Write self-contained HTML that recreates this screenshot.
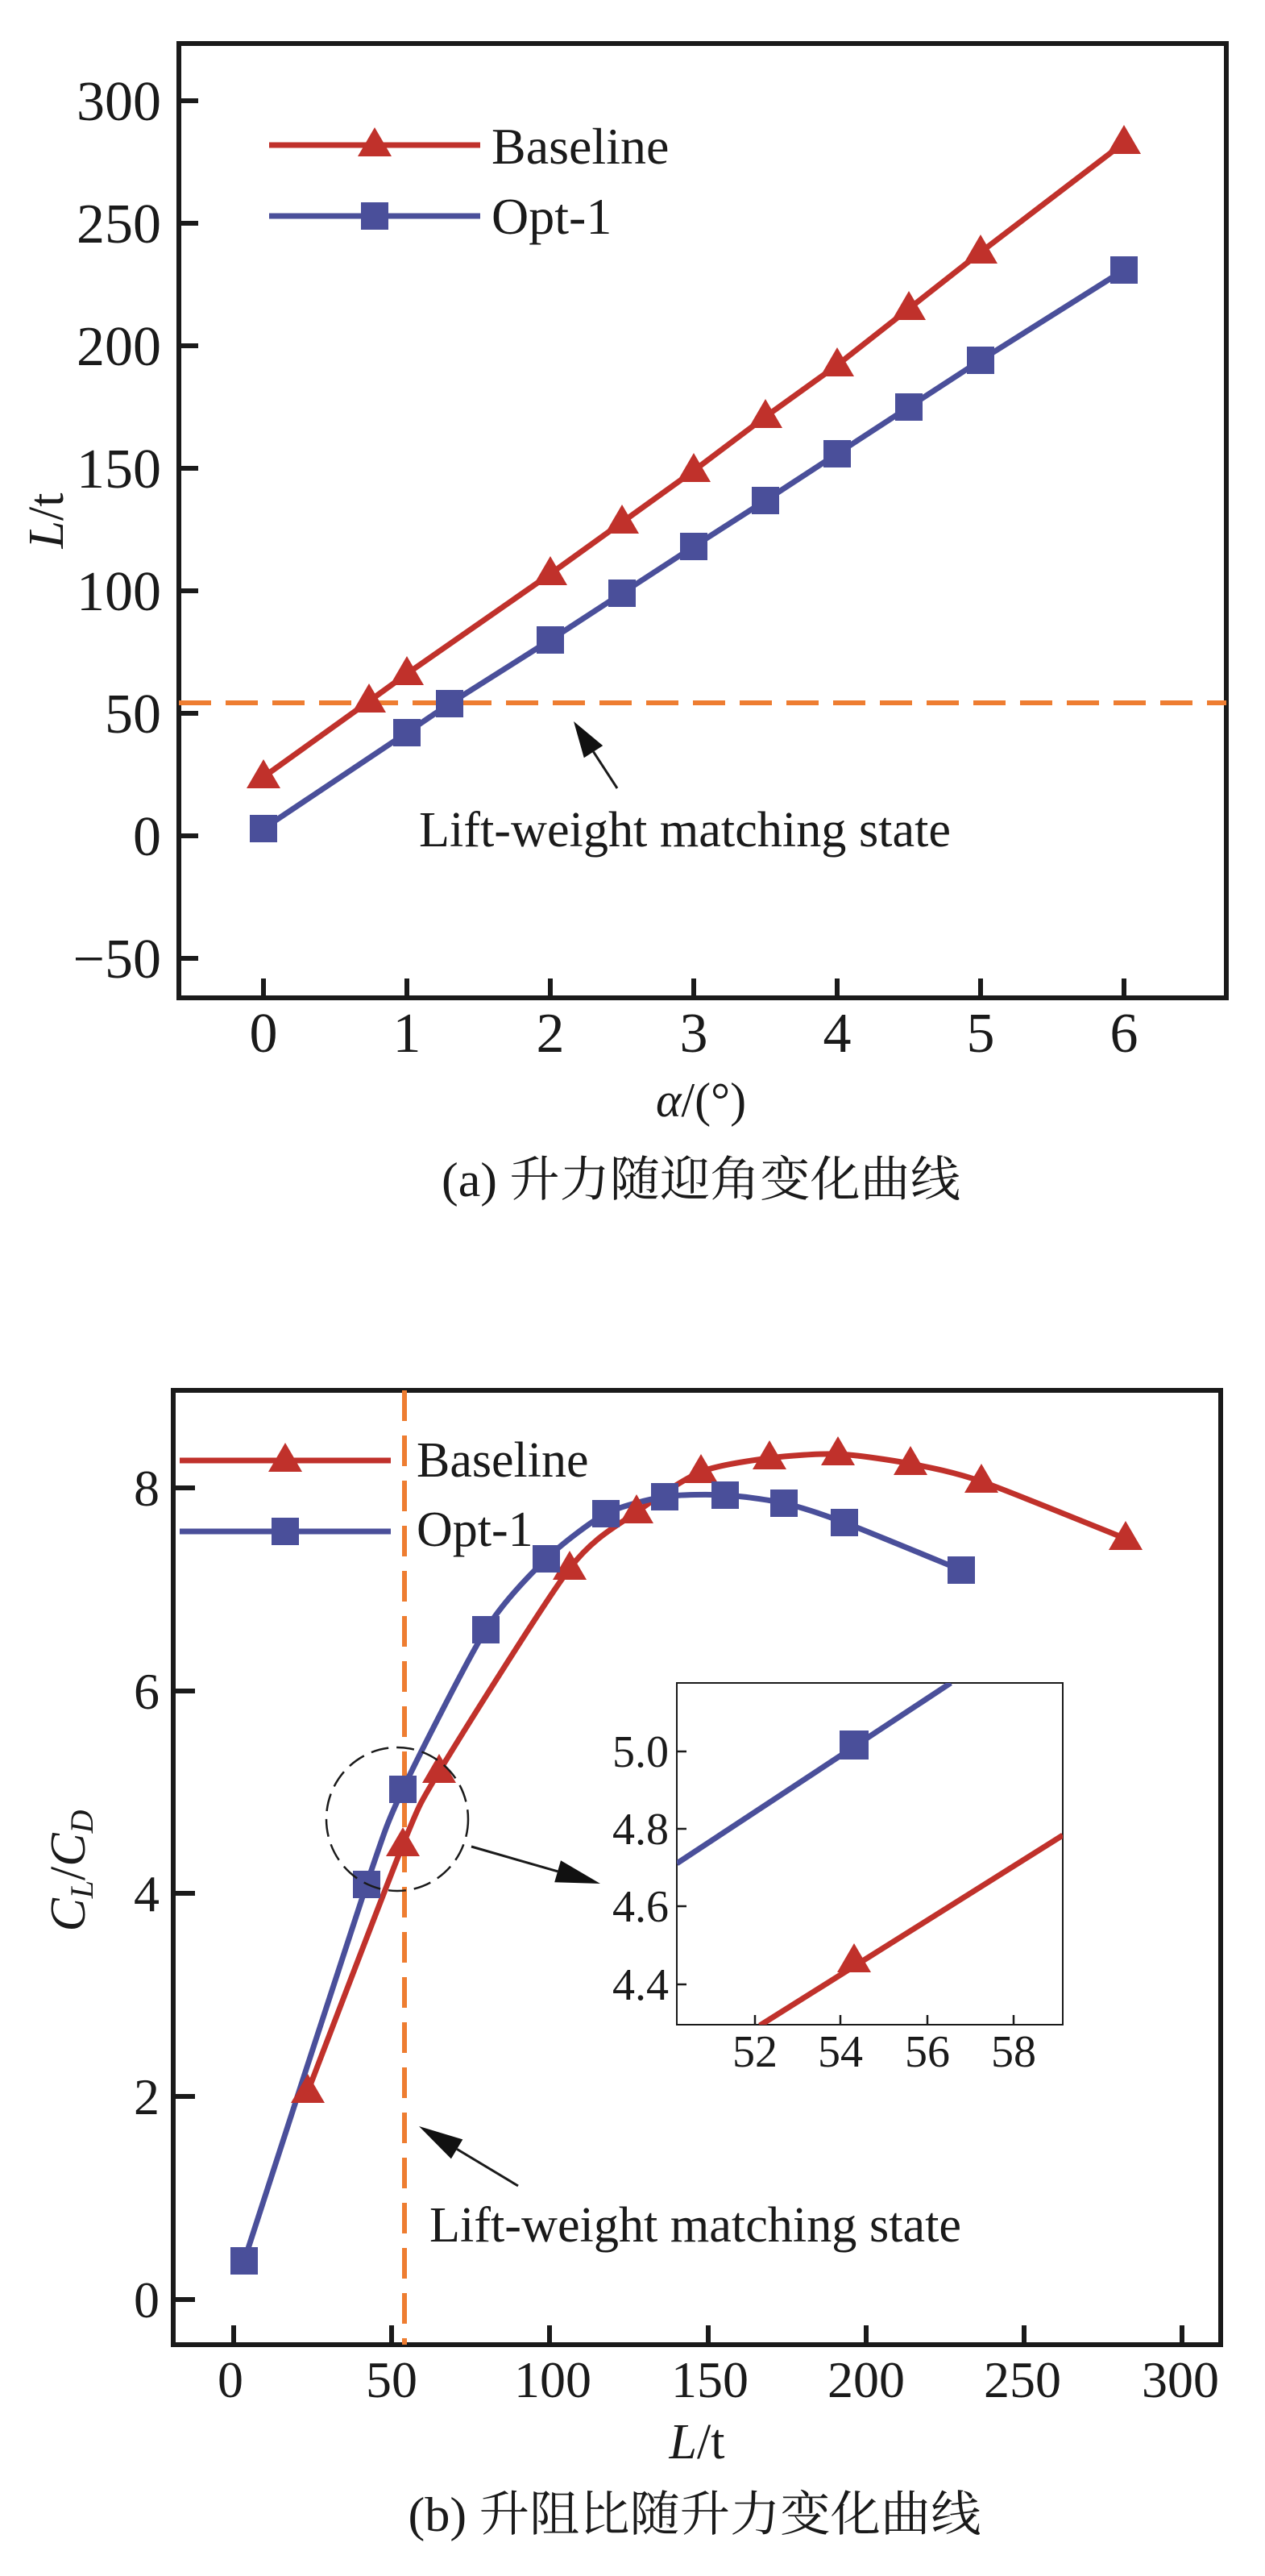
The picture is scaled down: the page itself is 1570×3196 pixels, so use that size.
<!DOCTYPE html>
<html><head><meta charset="utf-8">
<style>
html,body{margin:0;padding:0;background:#fff;}
svg{display:block;}
text{font-family:"Liberation Serif","Noto Serif CJK SC",serif;fill:#1a1a1a;}
</style></head>
<body>
<svg width="1570" height="3196" viewBox="0 0 1570 3196" xmlns="http://www.w3.org/2000/svg">
<defs>
<clipPath id="ca"><rect x="222" y="54" width="1300" height="1184"/></clipPath>
<clipPath id="cb"><rect x="215" y="1725" width="1300" height="1184"/></clipPath>
<clipPath id="ci"><rect x="840" y="2088" width="479" height="424"/></clipPath>
</defs>

<!-- ================= Chart (a) ================= -->
<rect x="222" y="54" width="1300" height="1184" stroke="#1a1a1a" stroke-width="6" fill="none"/>
<g stroke="#1a1a1a" stroke-width="6">
<line x1="222" y1="125" x2="246" y2="125"/>
<line x1="222" y1="277" x2="246" y2="277"/>
<line x1="222" y1="429" x2="246" y2="429"/>
<line x1="222" y1="581" x2="246" y2="581"/>
<line x1="222" y1="733" x2="246" y2="733"/>
<line x1="222" y1="885" x2="246" y2="885"/>
<line x1="222" y1="1037" x2="246" y2="1037"/>
<line x1="222" y1="1189" x2="246" y2="1189"/>
<line x1="327" y1="1238" x2="327" y2="1214"/>
<line x1="505" y1="1238" x2="505" y2="1214"/>
<line x1="683" y1="1238" x2="683" y2="1214"/>
<line x1="861" y1="1238" x2="861" y2="1214"/>
<line x1="1039" y1="1238" x2="1039" y2="1214"/>
<line x1="1217" y1="1238" x2="1217" y2="1214"/>
<line x1="1395" y1="1238" x2="1395" y2="1214"/>
</g>
<g font-size="70" text-anchor="end">
<text x="200" y="149">300</text>
<text x="200" y="301">250</text>
<text x="200" y="453">200</text>
<text x="200" y="605">150</text>
<text x="200" y="757">100</text>
<text x="200" y="909">50</text>
<text x="200" y="1061">0</text>
<text x="200" y="1213">−50</text>
</g>
<g font-size="70" text-anchor="middle">
<text x="327" y="1305">0</text>
<text x="505" y="1305">1</text>
<text x="683" y="1305">2</text>
<text x="861" y="1305">3</text>
<text x="1039" y="1305">4</text>
<text x="1217" y="1305">5</text>
<text x="1395" y="1305">6</text>
</g>
<text x="78" y="646" font-size="62" text-anchor="middle" transform="rotate(-90 78 646)"><tspan font-style="italic">L</tspan>/t</text>
<text x="870" y="1385" font-size="60" text-anchor="middle"><tspan font-style="italic">α</tspan>/(°)</text>
<text x="870" y="1484" font-size="60" text-anchor="middle" textLength="644" lengthAdjust="spacingAndGlyphs">(a) 升力随迎角变化曲线</text>

<g clip-path="url(#ca)">
<line x1="222" y1="872" x2="1522" y2="872" stroke="#EE7D31" stroke-width="6" stroke-dasharray="40 18"/>
<polyline fill="none" stroke="#C0312B" stroke-width="7" points="327,964 458,870 505,836 683,712 772,648 861,584 950,517 1039,453 1128,383 1217,313 1395,177"/>
<polyline fill="none" stroke="#4A4F9A" stroke-width="7" points="327,1028 505,909 558,873 683,794 772,736 861,678 950,621 1039,563 1128,505 1217,447 1395,335"/>
</g>
<g fill="#C0312B">
<path d="M0,-22 L21,14 L-21,14 Z" transform="translate(327,964)"/>
<path d="M0,-22 L21,14 L-21,14 Z" transform="translate(458,870)"/>
<path d="M0,-22 L21,14 L-21,14 Z" transform="translate(505,836)"/>
<path d="M0,-22 L21,14 L-21,14 Z" transform="translate(683,712)"/>
<path d="M0,-22 L21,14 L-21,14 Z" transform="translate(772,648)"/>
<path d="M0,-22 L21,14 L-21,14 Z" transform="translate(861,584)"/>
<path d="M0,-22 L21,14 L-21,14 Z" transform="translate(950,517)"/>
<path d="M0,-22 L21,14 L-21,14 Z" transform="translate(1039,453)"/>
<path d="M0,-22 L21,14 L-21,14 Z" transform="translate(1128,383)"/>
<path d="M0,-22 L21,14 L-21,14 Z" transform="translate(1217,313)"/>
<path d="M0,-22 L21,14 L-21,14 Z" transform="translate(1395,177)"/>
</g>
<g fill="#4A4F9A">
<rect x="310" y="1011" width="34" height="34"/>
<rect x="488" y="892" width="34" height="34"/>
<rect x="541" y="856" width="34" height="34"/>
<rect x="666" y="777" width="34" height="34"/>
<rect x="755" y="719" width="34" height="34"/>
<rect x="844" y="661" width="34" height="34"/>
<rect x="933" y="604" width="34" height="34"/>
<rect x="1022" y="546" width="34" height="34"/>
<rect x="1111" y="488" width="34" height="34"/>
<rect x="1200" y="430" width="34" height="34"/>
<rect x="1378" y="318" width="34" height="34"/>
</g>
<line x1="334" y1="180" x2="596" y2="180" stroke="#C0312B" stroke-width="7"/>
<line x1="334" y1="268" x2="596" y2="268" stroke="#4A4F9A" stroke-width="7"/>
<rect x="448" y="251" width="34" height="34" fill="#4A4F9A"/>
<path d="M0,-22 L21,14 L-21,14 Z" transform="translate(465,180)" fill="#C0312B"/>
<text x="610" y="203" font-size="64">Baseline</text>
<text x="610" y="290" font-size="64">Opt-1</text>

<line x1="766" y1="978" x2="736.5" y2="932.7" stroke="#1a1a1a" stroke-width="3"/>
<polygon points="712,895 748.2,925.1 724.8,940.3" fill="#111"/>
<text x="520" y="1050" font-size="62" textLength="660" lengthAdjust="spacingAndGlyphs">Lift-weight matching state</text>

<!-- ================= Chart (b) ================= -->
<rect x="215" y="1725" width="1300" height="1184" stroke="#1a1a1a" stroke-width="6" fill="none"/>
<g stroke="#1a1a1a" stroke-width="6">
<line x1="215" y1="1846" x2="242" y2="1846"/>
<line x1="215" y1="2098" x2="242" y2="2098"/>
<line x1="215" y1="2349" x2="242" y2="2349"/>
<line x1="215" y1="2601" x2="242" y2="2601"/>
<line x1="215" y1="2853" x2="242" y2="2853"/>
<line x1="290" y1="2909" x2="290" y2="2885"/>
<line x1="486" y1="2909" x2="486" y2="2885"/>
<line x1="682" y1="2909" x2="682" y2="2885"/>
<line x1="879" y1="2909" x2="879" y2="2885"/>
<line x1="1075" y1="2909" x2="1075" y2="2885"/>
<line x1="1271" y1="2909" x2="1271" y2="2885"/>
<line x1="1467" y1="2909" x2="1467" y2="2885"/>
</g>
<g font-size="64" text-anchor="end">
<text x="198" y="1868">8</text>
<text x="198" y="2120">6</text>
<text x="198" y="2371">4</text>
<text x="198" y="2623">2</text>
<text x="198" y="2875">0</text>
</g>
<g font-size="64" text-anchor="middle">
<text x="286" y="2974">0</text>
<text x="486" y="2974">50</text>
<text x="686" y="2974">100</text>
<text x="881" y="2974">150</text>
<text x="1075" y="2974">200</text>
<text x="1269" y="2974">250</text>
<text x="1465" y="2974">300</text>
</g>
<text x="105" y="2321" font-size="62" text-anchor="middle" transform="rotate(-90 105 2321)" font-style="italic">C<tspan font-size="40" dy="10">L</tspan><tspan font-style="normal" dy="-10">/</tspan>C<tspan font-size="40" dy="10">D</tspan></text>
<text x="865" y="3050" font-size="62" text-anchor="middle"><tspan font-style="italic">L</tspan>/t</text>
<text x="862" y="3140" font-size="60" text-anchor="middle" textLength="711" lengthAdjust="spacingAndGlyphs">(b) 升阻比随升力变化曲线</text>

<g clip-path="url(#cb)">
<line x1="502" y1="1725" x2="502" y2="2909" stroke="#EE7D31" stroke-width="6" stroke-dasharray="38 18"/>
<path id="pb" fill="none" stroke="#C0312B" stroke-width="7" d=""/>
<path id="po" fill="none" stroke="#4A4F9A" stroke-width="7" d=""/>
<polyline id="fb" fill="none" stroke="#C0312B" stroke-width="7" points="382,2595 500,2289 545,2198 707,1946 790,1876 870,1826 955,1809 1040,1804 1130,1816 1218,1838 1397,1909"/>
<polyline id="fo" fill="none" stroke="#4A4F9A" stroke-width="7" points="303,2805 455,2338 500,2220 603,2022 678,1934 752,1878 825,1857 900,1855 973,1865 1048,1889 1193,1948"/>
</g>
<g fill="#C0312B">
<path d="M0,-22 L21,14 L-21,14 Z" transform="translate(382,2595)"/>
<path d="M0,-22 L21,14 L-21,14 Z" transform="translate(500,2289)"/>
<path d="M0,-22 L21,14 L-21,14 Z" transform="translate(545,2198)"/>
<path d="M0,-22 L21,14 L-21,14 Z" transform="translate(707,1946)"/>
<path d="M0,-22 L21,14 L-21,14 Z" transform="translate(790,1876)"/>
<path d="M0,-22 L21,14 L-21,14 Z" transform="translate(870,1826)"/>
<path d="M0,-22 L21,14 L-21,14 Z" transform="translate(955,1809)"/>
<path d="M0,-22 L21,14 L-21,14 Z" transform="translate(1040,1804)"/>
<path d="M0,-22 L21,14 L-21,14 Z" transform="translate(1130,1816)"/>
<path d="M0,-22 L21,14 L-21,14 Z" transform="translate(1218,1838)"/>
<path d="M0,-22 L21,14 L-21,14 Z" transform="translate(1397,1909)"/>
</g>
<g fill="#4A4F9A">
<rect x="286" y="2788" width="34" height="34"/>
<rect x="438" y="2321" width="34" height="34"/>
<rect x="483" y="2203" width="34" height="34"/>
<rect x="586" y="2005" width="34" height="34"/>
<rect x="661" y="1917" width="34" height="34"/>
<rect x="735" y="1861" width="34" height="34"/>
<rect x="808" y="1840" width="34" height="34"/>
<rect x="883" y="1838" width="34" height="34"/>
<rect x="956" y="1848" width="34" height="34"/>
<rect x="1031" y="1872" width="34" height="34"/>
<rect x="1176" y="1931" width="34" height="34"/>
</g>
<line x1="223" y1="1812" x2="485" y2="1812" stroke="#C0312B" stroke-width="7"/>
<line x1="223" y1="1900" x2="485" y2="1900" stroke="#4A4F9A" stroke-width="7"/>
<path d="M0,-22 L21,14 L-21,14 Z" transform="translate(354,1812)" fill="#C0312B"/>
<rect x="337" y="1883" width="34" height="34" fill="#4A4F9A"/>
<text x="517" y="1832" font-size="62">Baseline</text>
<text x="517" y="1918" font-size="62">Opt-1</text>

<ellipse cx="493" cy="2257" rx="88" ry="89" fill="none" stroke="#1a1a1a" stroke-width="2.5" stroke-dasharray="22 10"/>
<line x1="585" y1="2291" x2="692.1" y2="2321.8" stroke="#1a1a1a" stroke-width="3"/>
<polygon points="745,2337 688.2,2335.3 696,2308.3" fill="#111"/>
<line x1="643" y1="2712" x2="567.1" y2="2666.4" stroke="#1a1a1a" stroke-width="3"/>
<polygon points="520,2638 574.3,2654.4 559.9,2678.4" fill="#111"/>
<text x="533" y="2781" font-size="62" textLength="660" lengthAdjust="spacingAndGlyphs">Lift-weight matching state</text>

<!-- inset -->
<rect x="840" y="2088" width="479" height="424" fill="#fff" stroke="#1a1a1a" stroke-width="2"/>
<g stroke="#1a1a1a" stroke-width="2.5">
<line x1="840" y1="2173" x2="852" y2="2173"/>
<line x1="840" y1="2269" x2="852" y2="2269"/>
<line x1="840" y1="2365" x2="852" y2="2365"/>
<line x1="840" y1="2462" x2="852" y2="2462"/>
<line x1="937" y1="2512" x2="937" y2="2500"/>
<line x1="1043" y1="2512" x2="1043" y2="2500"/>
<line x1="1151" y1="2512" x2="1151" y2="2500"/>
<line x1="1258" y1="2512" x2="1258" y2="2500"/>
</g>
<g font-size="56" text-anchor="end">
<text x="830" y="2192">5.0</text>
<text x="830" y="2288">4.8</text>
<text x="830" y="2384">4.6</text>
<text x="830" y="2481">4.4</text>
</g>
<g font-size="56" text-anchor="middle">
<text x="937" y="2564">52</text>
<text x="1043" y="2564">54</text>
<text x="1151" y="2564">56</text>
<text x="1258" y="2564">58</text>
</g>
<g clip-path="url(#ci)">
<line x1="840" y1="2312" x2="1180" y2="2088" stroke="#4A4F9A" stroke-width="7"/>
<line x1="943" y1="2513" x2="1319" y2="2277" stroke="#C0312B" stroke-width="7"/>
</g>
<rect x="1042" y="2147" width="36" height="36" fill="#4A4F9A"/>
<path d="M0,-22 L21,14 L-21,14 Z" transform="translate(1060,2433)" fill="#C0312B"/>
</svg>
<script>
(function(){
function smooth(pts){
 var d="M"+pts[0][0]+","+pts[0][1];
 for(var i=0;i<pts.length-1;i++){
  var p0=pts[Math.max(i-1,0)],p1=pts[i],p2=pts[i+1],p3=pts[Math.min(i+2,pts.length-1)];
  var k=8;
  var c1x=p1[0]+(p2[0]-p0[0])/k,c1y=p1[1]+(p2[1]-p0[1])/k;
  var c2x=p2[0]-(p3[0]-p1[0])/k,c2y=p2[1]-(p3[1]-p1[1])/k;
  d+=" C"+c1x+","+c1y+" "+c2x+","+c2y+" "+p2[0]+","+p2[1];
 }
 return d;
}
function go(pl,pa){
 var el=document.getElementById(pl);
 var pts=el.getAttribute("points").trim().split(/\s+/).map(function(s){return s.split(",").map(Number);});
 document.getElementById(pa).setAttribute("d",smooth(pts));
 el.parentNode.removeChild(el);
}
try{go("fb","pb");go("fo","po");}catch(e){}
})();
</script>
</body></html>
